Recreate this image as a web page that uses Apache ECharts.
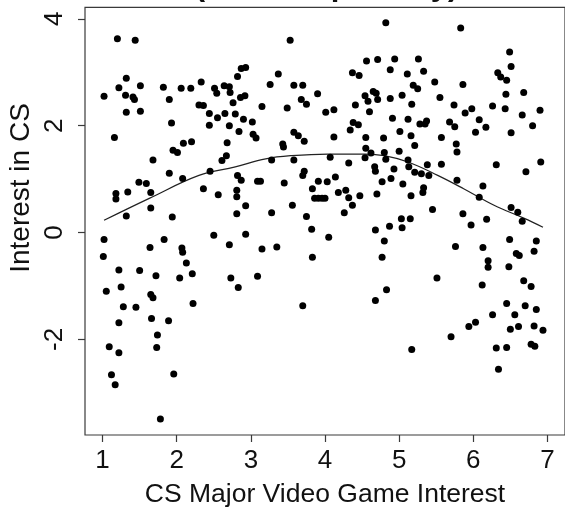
<!DOCTYPE html>
<html>
<head>
<meta charset="utf-8">
<script src="https://cdn.jsdelivr.net/npm/echarts@6/dist/echarts.min.js"></script>
<style>
  html, body { margin: 0; padding: 0; background: #fff; }
  #chart { width: 565px; height: 513px; }
</style>
</head>
<body>
<div id="chart"></div>
<script>
// Respondents: video game interest of CS majors (x) vs. interest in CS (y)
const gameInterest = [
  1.20,1.44,1.32,1.22,1.51,1.02,1.31,1.41,1.43,1.32,1.51,1.82,1.90,1.93,2.06,2.19,2.33,2.30,2.36,2.44,
  2.55,2.65,2.44,2.51,2.54,2.64,2.71,2.72,2.82,2.87,2.93,2.76,2.86,2.92,2.79,2.90,2.71,2.84,3.53,4.82,
  3.37,3.26,3.58,3.70,3.90,3.68,3.75,3.15,3.49,4.01,4.12,3.02,4.37,4.46,4.56,4.71,4.94,4.88,5.11,4.54,
  4.65,4.69,4.71,4.58,4.88,5.04,4.41,4.60,4.91,4.38,4.45,4.34,3.58,3.64,3.72,3.03,3.07,3.43,3.44,4.12,
  4.55,4.79,5.01,4.55,4.62,4.80,4.82,5.00,4.54,5.12,5.13,5.83,6.49,6.51,6.33,6.37,6.45,5.26,5.33,5.19,
  5.25,5.48,5.86,5.55,5.17,5.74,5.89,5.98,6.44,6.68,6.26,6.43,6.66,6.90,6.80,6.51,6.08,6.17,6.03,5.68,
  5.75,5.12,5.28,5.37,5.35,5.16,5.21,5.57,5.77,5.78,5.21,5.30,5.40,5.38,5.57,5.78,6.31,6.71,6.91,5.05,
  5.33,5.32,5.16,6.13,6.08,5.45,5.86,5.97,6.18,6.51,6.60,6.66,5.15,5.03,5.04,5.76,6.13,6.49,6.85,6.58,
  6.62,6.82,6.20,6.20,3.28,3.58,4.07,4.32,4.67,4.68,4.93,3.72,3.70,3.09,3.13,3.45,3.91,4.03,4.14,3.83,
  3.86,3.91,3.96,4.00,4.18,4.28,4.32,4.37,4.47,4.70,4.77,4.89,2.93,3.28,3.56,3.75,4.26,2.93,3.82,4.05,
  3.15,3.35,3.83,4.68,4.80,4.87,4.77,1.16,2.09,2.20,1.95,2.01,1.68,2.68,2.61,2.67,1.90,2.08,2.45,1.49,
  1.59,1.18,1.18,1.34,1.65,1.65,1.32,1.94,2.36,2.56,2.82,2.87,2.81,2.81,2.81,1.02,1.01,1.64,1.83,2.07,
  2.08,2.50,2.71,2.13,1.22,1.50,1.72,2.21,2.04,2.73,3.09,2.83,1.05,1.25,1.65,1.68,1.28,1.45,2.22,3.70,
  1.66,1.89,1.22,1.74,1.09,1.22,1.73,1.12,1.17,1.96,1.78,4.83,4.68,5.17,5.51,5.70,5.94,6.03,6.12,6.48,
  6.68,6.78,6.45,6.70,6.85,6.26,6.56,6.50,6.61,6.82,6.94,6.31,6.45,6.78,6.83,6.34
];
const csInterest = [
  3.63,3.60,2.89,2.71,2.75,2.55,2.57,2.54,2.49,2.25,2.27,2.72,2.49,2.05,2.70,2.70,2.82,2.39,2.38,2.23,
  2.15,2.23,2.01,2.70,2.61,2.75,2.73,2.62,2.92,3.07,3.09,2.43,2.53,2.56,2.22,2.12,2.00,1.89,3.60,3.93,
  2.97,2.77,2.76,2.76,2.60,2.49,2.40,2.36,2.33,2.25,2.30,2.07,2.99,2.94,3.21,3.24,3.25,3.05,2.97,2.56,
  2.64,2.61,2.49,2.46,2.51,2.57,2.39,2.26,2.14,2.06,2.02,1.92,1.88,1.81,1.71,1.84,1.77,1.66,1.60,1.79,
  1.78,1.77,1.89,1.58,1.49,1.50,1.37,1.52,1.40,1.36,1.23,3.83,3.38,3.11,2.99,2.91,2.85,3.25,3.02,2.76,
  2.69,2.82,2.77,2.53,2.40,2.39,2.24,2.32,2.59,2.62,2.37,2.32,2.20,2.29,2.00,1.87,2.11,1.97,1.88,2.07,
  1.98,2.12,2.03,2.09,2.03,1.81,1.63,1.78,1.66,1.51,1.13,1.10,1.07,1.27,1.28,0.98,1.27,1.14,1.32,0.91,
  0.84,0.75,0.69,0.87,0.66,0.43,0.35,0.14,0.25,0.47,0.38,0.21,0.26,0.26,0.09,-0.26,-0.28,-0.13,-0.16,-0.39,
  -0.43,-0.35,-0.53,-0.65,1.36,1.36,1.41,1.30,1.23,1.15,1.19,1.15,1.07,0.96,0.96,0.93,0.96,0.95,1.04,0.82,
  0.64,0.64,0.64,0.64,0.75,0.79,0.65,0.51,0.69,0.72,0.95,1.01,0.50,0.37,0.51,0.30,0.37,-0.03,0.06,-0.09,
  -0.31,-0.27,-0.46,0.05,-0.16,0.12,-0.46,1.78,1.67,1.70,1.54,1.50,1.36,1.68,1.35,1.44,1.11,1.01,1.15,0.94,
  0.92,0.73,0.63,0.76,0.75,0.46,0.31,0.29,0.82,0.71,1.07,0.98,0.79,0.67,0.35,-0.13,-0.45,-0.28,-0.13,-0.29,
  -0.37,-0.05,-0.23,-0.57,-0.70,-0.71,-0.81,-0.77,-0.85,-0.85,-0.82,-1.03,-1.10,-1.02,-1.16,-1.22,-1.39,-1.40,-1.33,-1.37,
  -1.61,-1.65,-1.69,-1.92,-2.14,-2.25,-2.15,-2.66,-2.85,-2.65,-3.49,-1.07,-1.27,-2.19,-0.85,-1.95,-1.76,-1.68,-0.98,-0.64,
  -0.90,-1.01,-1.33,-1.37,-1.44,-1.54,-1.54,-1.81,-1.76,-1.75,-1.83,-2.16,-2.15,-2.09,-2.13,-2.56
];

// Smoothed (loess) trend through the cloud
const fitX = [1.02, 1.63, 2.30, 2.79, 3.20, 3.55, 4.04, 4.54, 4.80, 5.12, 5.52, 5.87, 6.28, 6.68, 6.94];
const fitY = [0.23, 0.64, 1.07, 1.23, 1.38, 1.44, 1.47, 1.47, 1.44, 1.32, 1.07, 0.82, 0.51, 0.27, 0.10];

const xTicks = [1, 2, 3, 4, 5, 6, 7];
const yTicks = [-2, 0, 2, 4];

const titleText = '(Full sample only)';
const xTitle = 'CS Major Video Game Interest';
const yTitle = 'Interest in CS';

const FONT = '"Liberation Sans", Arial, Helvetica, sans-serif';

const points = gameInterest.map((x, i) => [x, csInterest[i]]);
const fit = fitX.map((x, i) => [x, fitY[i]]);

const chart = echarts.init(document.getElementById('chart'), null, { renderer: 'canvas' });
chart.setOption({
  animation: false,
  backgroundColor: '#ffffff',
  graphic: [
    {
      type: 'text',
      x: 326.5,
      y: 2,
      style: {
        text: titleText,
        font: 'bold 31px ' + FONT,
        fill: '#111',
        textAlign: 'center',
        textVerticalAlign: 'bottom'
      }
    },
    {
      // vertical axis title, set beside the value labels
      type: 'text',
      x: 21,
      y: 188,
      rotation: Math.PI / 2,
      style: {
        text: yTitle,
        font: '28px ' + FONT,
        fill: '#111',
        textAlign: 'center',
        textVerticalAlign: 'middle'
      }
    }
  ],
  grid: {
    left: 85, top: 7.3, width: 483.4, height: 431,
    show: true, borderColor: '#3a3a3a', borderWidth: 1.2,
    backgroundColor: 'transparent', containLabel: false
  },
  xAxis: {
    type: 'value', min: 0.763, max: 7.237,
    axisLine: { show: false, onZero: false },
    splitLine: { show: false },
    axisTick: { show: true, customValues: xTicks, length: 7, lineStyle: { color: '#3a3a3a', width: 1.2 } },
    axisLabel: { customValues: xTicks, fontSize: 26, fontFamily: FONT, color: '#111', margin: 13 },
    name: xTitle, nameLocation: 'middle', nameGap: 46,
    nameTextStyle: { fontSize: 26.5, fontFamily: FONT, color: '#111' }
  },
  yAxis: {
    type: 'value', min: -3.79, max: 4.217,
    axisLine: { show: false, onZero: false },
    splitLine: { show: false },
    axisTick: { show: true, customValues: yTicks, length: 7, lineStyle: { color: '#3a3a3a', width: 1.2 } },
    axisLabel: { customValues: yTicks, rotate: 90, fontSize: 26, fontFamily: FONT, color: '#111', margin: 17 }
  },
  series: [
    {
      type: 'scatter',
      data: points,
      symbol: 'circle',
      symbolSize: 7,
      itemStyle: { color: '#000', opacity: 1 },
      z: 3
    },
    {
      type: 'line',
      data: fit,
      smooth: 0.4,
      showSymbol: false,
      lineStyle: { color: '#222', width: 1.2 },
      z: 2
    }
  ]
});
</script>
</body>
</html>
